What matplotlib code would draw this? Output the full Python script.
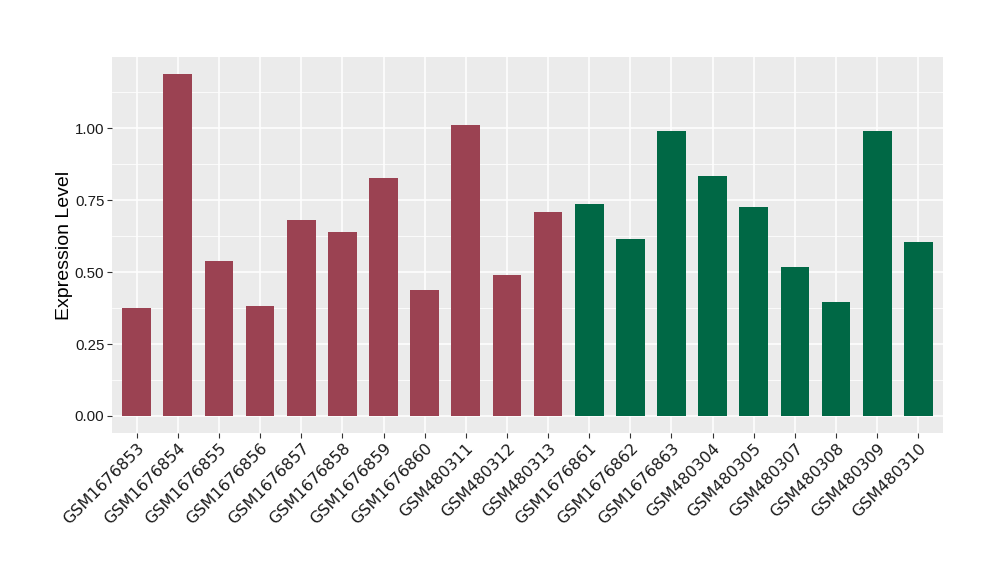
import matplotlib
matplotlib.use("Agg")
import matplotlib.pyplot as plt
import numpy as np

samples = [
    "GSM1676853", "GSM1676854", "GSM1676855", "GSM1676856", "GSM1676857",
    "GSM1676858", "GSM1676859", "GSM1676860", "GSM480311", "GSM480312",
    "GSM480313", "GSM1676861", "GSM1676862", "GSM1676863", "GSM480304",
    "GSM480305", "GSM480307", "GSM480308", "GSM480309", "GSM480310",
]
expression = [
    0.375, 1.1875, 0.538, 0.382, 0.681,
    0.639, 0.826, 0.4375, 1.010, 0.490,
    0.708, 0.736, 0.615, 0.990, 0.833,
    0.726, 0.517, 0.396, 0.990, 0.604,
]
groups = ["a"] * 11 + ["b"] * 9
group_colors = {"a": "#9B4252", "b": "#006845"}

yticks = [0.0, 0.25, 0.5, 0.75, 1.0]
ytick_labels = ["0.00", "0.25", "0.50", "0.75", "1.00"]


def main():
    fig = plt.figure(figsize=(10, 5.8), dpi=100)
    ax = fig.add_axes([0.112, 0.2534, 0.831, 0.648])
    ax.set_facecolor("#EBEBEB")

    x = np.arange(len(samples))
    colors = [group_colors[g] for g in groups]
    ax.bar(x, expression, width=0.7, color=colors, zorder=3)

    ymax = max(expression)
    pad = ymax * 0.05
    ax.set_ylim(-pad, ymax + pad)
    ax.set_xlim(-0.6, len(samples) - 0.4)

    ax.set_yticks(yticks)
    ax.set_yticklabels(ytick_labels, fontsize=10.8, family="Liberation Sans", color="#1A1A1A")
    ax.set_yticks([0.125, 0.375, 0.625, 0.875, 1.125], minor=True)
    ax.set_xticks(x)
    ax.set_xticklabels(samples, rotation=45, ha="right", rotation_mode="anchor",
                       fontsize=11.5, family="DejaVu Sans", color="#1A1A1A")

    ax.grid(which="major", color="white", linewidth=1.1, zorder=0)
    ax.grid(which="minor", axis="y", color="white", linewidth=0.55, zorder=0)
    ax.set_axisbelow(True)
    ax.tick_params(which="major", length=3.5, width=0.8, color="#333333", pad=2)
    ax.tick_params(which="minor", length=0)
    for s in ax.spines.values():
        s.set_visible(False)

    ax.set_ylabel("Expression Level", fontsize=14, family="Liberation Sans", labelpad=1)

    fig.savefig("out.png", dpi=100)
    plt.close(fig)


if __name__ == "__main__":
    main()
